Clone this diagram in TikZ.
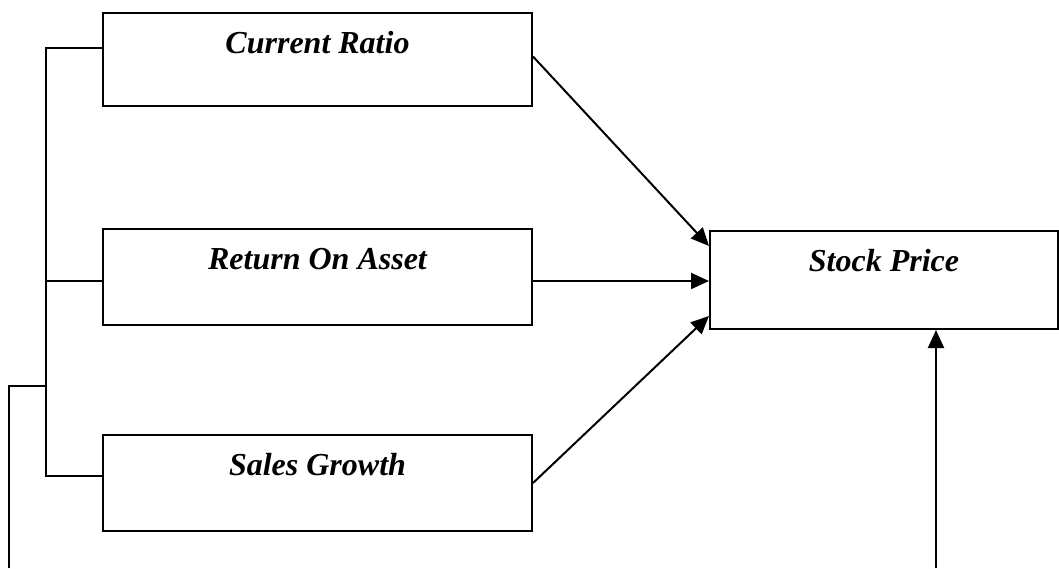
\documentclass[tikz,border=0pt]{standalone}
\usepackage{fontspec}
\setmainfont{Liberation Serif}
\usetikzlibrary{arrows.meta,positioning}

\tikzset{
  factor/.style={draw,rectangle,minimum width=429pt,inner sep=0pt,
    text height=40pt,text depth=56pt,
    font=\fontsize{32}{36}\selectfont\bfseries\itshape},
  wire/.style={line width=2pt}
}

\begin{document}
\begin{tikzpicture}[x=1pt,y=-1pt,>={Triangle[length=18pt,width=16pt]},
                    wire,node distance=120pt]
  \useasboundingbox (0,0) rectangle (1059,568);

  \node[factor,anchor=north west,text depth=53pt] (CR) at (102,12) {Current Ratio};
  \node[factor] (ROA) [below=121pt of CR]  {Return On Asset};
  \node[factor] (SG)  [below=108pt of ROA] {Sales Growth};
  \node[factor,anchor=north west,minimum width=348pt,text depth=58pt]
       (SP) at (709,230) {Stock Price};

  % free ends at the lower edge
  \coordinate (inL) at (9,568);
  \coordinate (join) at (46,386);
  \coordinate (inR) at (936,568);

  % bracket on the left
  \draw ([yshift=12pt]CR.west) -- ++(-56,0) |- ([yshift=7pt]SG.west);
  \draw ([yshift=-4pt]ROA.west) -- ++(-56,0);
  \draw (inL) |- (join);

  % arrows into the price box
  \draw[->] ([yshift=3pt]CR.east) -- ([yshift=34pt]SP.west);
  \draw[->] ([yshift=-4pt]ROA.east) -- ([yshift=-4pt]ROA.east -| SP.west);
  \draw[->] (SG.east) -- ([yshift=-36pt]SP.west);
  \draw[->] (inR) -- (inR |- SP.south);
\end{tikzpicture}
\end{document}
